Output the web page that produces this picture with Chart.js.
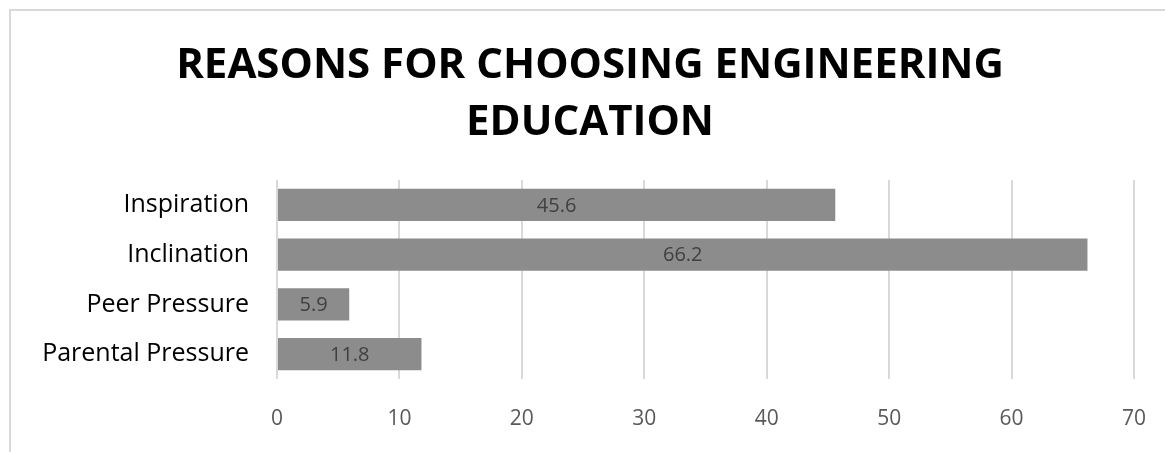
<!DOCTYPE html>
<html>
<head>
<meta charset="utf-8">
<script src="https://cdn.jsdelivr.net/npm/chart.js@4/dist/chart.umd.min.js"></script>
<style>
    html, body { margin: 0; padding: 0; background: #fff; overflow: hidden; }
    .frame {
        position: absolute; left: 9px; top: 9px;
        width: 1196px; height: 460px;
        border: 2px solid #d9d9d9;
    }
    canvas { display: block; }
</style>
</head>
<body>
<div class="frame"><canvas id="chart" width="1196" height="460"></canvas></div>
<script>
    // --- DATA ---
    const categories = ['Inspiration', 'Inclination', 'Peer Pressure', 'Parental Pressure'];
    const percentages = [45.6, 66.2, 5.9, 11.8];
    const titleLines = ['REASONS FOR CHOOSING ENGINEERING', 'EDUCATION'];

    // two-line title, centred on the whole chart box (which runs past the window edge)
    const centredTitle = {
        id: 'centredTitle',
        afterDraw(chart) {
            const ctx = chart.ctx;
            const cx = 579;
            ctx.save();
            ctx.font = 'bold 42px "Open Sans"';
            ctx.fillStyle = '#000000';
            ctx.textAlign = 'center';
            ctx.textBaseline = 'middle';
            titleLines.forEach((line, i) => ctx.fillText(line, cx, 55 + i * 57));
            ctx.restore();
        }
    };

    // draws the value in the middle of every bar
    const barValueLabels = {
        id: 'barValueLabels',
        afterDatasetsDraw(chart) {
            const ctx = chart.ctx;
            const meta = chart.getDatasetMeta(0);
            ctx.save();
            ctx.font = '20px "Open Sans"';
            ctx.fillStyle = '#404040';
            ctx.textAlign = 'center';
            ctx.textBaseline = 'middle';
            meta.data.forEach((bar, i) => {
                const cx = (bar.x + bar.base) / 2;
                ctx.fillText(String(percentages[i]), cx, bar.y + 1);
            });
            ctx.restore();
        }
    };

    new Chart(document.getElementById('chart'), {
        type: 'bar',
        data: {
            labels: categories,
            datasets: [{
                data: percentages,
                backgroundColor: '#8c8c8c',
                borderWidth: 0,
                barPercentage: 0.65,
                categoryPercentage: 1.0
            }]
        },
        options: {
            indexAxis: 'y',
            responsive: false,
            animation: false,
            layout: { padding: { left: 0, right: 73, top: 169, bottom: 0 } },
            scales: {
                x: {
                    min: 0, max: 70,
                    ticks: { stepSize: 10, color: '#595959', font: { family: 'Open Sans', size: 21 }, padding: 27 },
                    grid: { color: '#d9d9d9', lineWidth: 2, drawTicks: false },
                    border: { display: false },
                    afterFit(scale) { scale.height = 92; }
                },
                y: {
                    ticks: { color: '#000000', font: { family: 'Open Sans', size: 25 }, padding: 20 },
                    grid: { display: false },
                    border: { display: false },
                    afterFit(scale) { scale.width = 266; }
                }
            },
            plugins: {
                legend: { display: false },
                tooltip: { enabled: false },
                title: { display: false }
            }
        },
        plugins: [barValueLabels, centredTitle]
    });
</script>
</body>
</html>
